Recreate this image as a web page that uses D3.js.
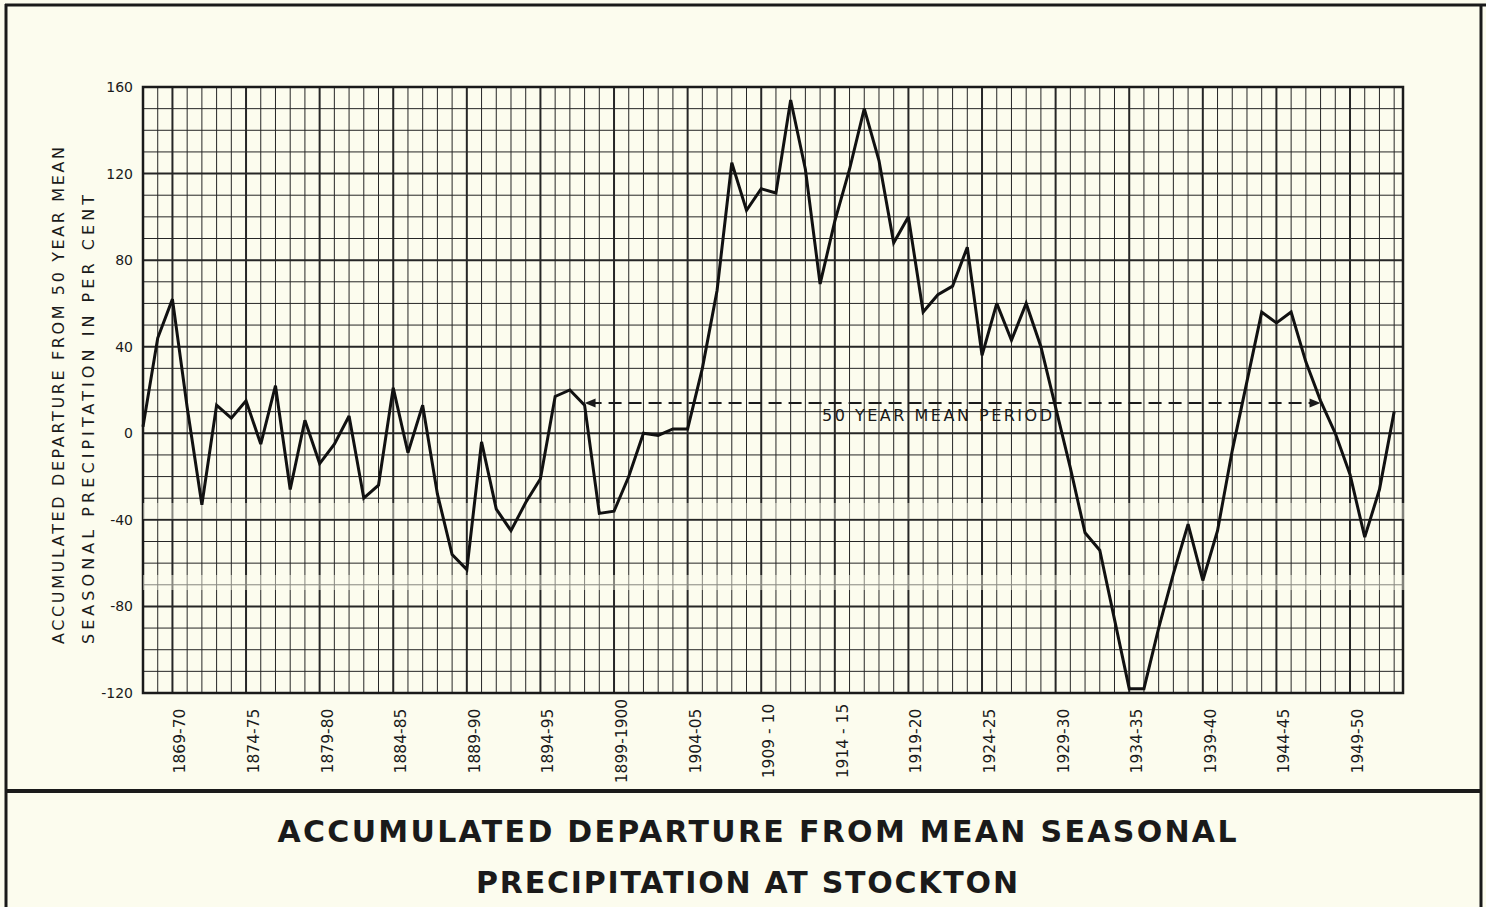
<!DOCTYPE html>
<html>
<head>
<meta charset="utf-8">
<script src="https://cdn.jsdelivr.net/npm/d3@7"></script>
<style>
  html, body { margin: 0; padding: 0; background: #fcfcee; }
  svg { display: block; }
  text { font-family: "DejaVu Sans", sans-serif; fill: #1a1a1a; }
</style>
</head>
<body>
<div id="chart"></div>
<script>
// seasons run 1867-68 .. 1952-53, one value per season (accumulated departure, per cent)
var firstYear = 1867;
var departure = [
  3, 44, 62, 12, -33, 13, 7, 15, -5, 22,
  -26, 6, -14, -5, 8, -30, -24, 21, -9, 13,
  -28, -56, -63, -4, -35, -45, -32, -21, 17, 20,
  13, -37, -36, -20, 0, -1, 2, 2, 30, 66,
  125, 103, 113, 111, 154, 122, 69, 98, 122, 150,
  126, 88, 100, 56, 64, 68, 86, 36, 60, 43,
  60, 40, 12, -16, -46, -54, -86, -118, -118, -90,
  -65, -42, -68, -45, -8, 24, 56, 51, 56, 33,
  15, 0, -19, -48, -26, 10
];
var seasons = departure.map(function (d, i) { return firstYear + i; });

var tickLabels = ["1869-70", "1874-75", "1879-80", "1884-85", "1889-90", "1894-95",
  "1899-1900", "1904-05", "1909 - 10", "1914 - 15", "1919-20", "1924-25", "1929-30",
  "1934-35", "1939-40", "1944-45", "1949-50"];
var tickYears = [1869, 1874, 1879, 1884, 1889, 1894, 1899, 1904, 1909, 1914, 1919,
  1924, 1929, 1934, 1939, 1944, 1949];
var yTicks = [160, 120, 80, 40, 0, -40, -80, -120];

// 50 year mean period marker
var meanPeriod = [1897, 1947];
var meanLevel = 14;

var W = 1486, H = 907;
var svg = d3.select("#chart").append("svg").attr("width", W).attr("height", H);

var x = d3.scaleLinear().domain([firstYear, firstYear + 85.6]).range([143, 1403]);
var y = d3.scaleLinear().domain([-120, 160]).range([693, 87]);

svg.append("rect").attr("width", W).attr("height", H).attr("fill", "#fcfcee");

// frame
var frame = svg.append("g").attr("stroke", "#1a1a1a").attr("fill", "none");
frame.append("line").attr("x1", 5).attr("x2", W).attr("y1", 5).attr("y2", 5).attr("stroke-width", 3);
frame.append("line").attr("x1", 6).attr("x2", 6).attr("y1", 4).attr("y2", H).attr("stroke-width", 3);
frame.append("line").attr("x1", 1481).attr("x2", 1481).attr("y1", 4).attr("y2", H).attr("stroke-width", 3);
frame.append("line").attr("x1", 5).attr("x2", 1482).attr("y1", 791).attr("y2", 791).attr("stroke-width", 4);

// grid
var grid = svg.append("g").attr("stroke", "#262626");
var minorY = d3.range(-120, 161, 10);
grid.selectAll(".hy").data(minorY).join("line")
  .attr("x1", x.range()[0]).attr("x2", x.range()[1])
  .attr("y1", function (d) { return y(d); }).attr("y2", function (d) { return y(d); })
  .attr("stroke-width", function (d) { return d % 40 === 0 ? 2 : 1; });
grid.selectAll(".vx").data(seasons).join("line")
  .attr("x1", function (d) { return x(d); }).attr("x2", function (d) { return x(d); })
  .attr("y1", y(160)).attr("y2", y(-120))
  .attr("stroke-width", function (d) { return tickYears.indexOf(d) >= 0 ? 2 : 1; });
svg.append("rect")
  .attr("x", x.range()[0]).attr("y", y(160))
  .attr("width", x.range()[1] - x.range()[0]).attr("height", y(-120) - y(160))
  .attr("fill", "none").attr("stroke", "#1a1a1a").attr("stroke-width", 2.5);

// washed stripes of the scan
svg.append("rect").attr("x", 143).attr("y", 503).attr("width", 1265).attr("height", 16)
  .attr("fill", "#fcfcee").attr("opacity", 0.45);
svg.append("rect").attr("x", 143).attr("y", 575).attr("width", 1265).attr("height", 15)
  .attr("fill", "#fcfcee").attr("opacity", 0.45);

// y axis labels
var yAxis = d3.axisLeft(y).tickValues(yTicks).tickSize(0).tickPadding(10)
  .tickFormat(function (d) { return String(d); });
var yAxisG = svg.append("g").attr("transform", "translate(" + x.range()[0] + ",0)").call(yAxis);
yAxisG.select(".domain").remove();
yAxisG.selectAll("text").style("font-family", "DejaVu Sans, sans-serif")
  .style("font-size", "14px").attr("fill", "#1a1a1a");

// x labels (rotated)
svg.append("g").selectAll("text").data(tickYears).join("text")
  .attr("transform", function (d) { return "translate(" + (x(d) + 13) + ",741) rotate(-90)"; })
  .attr("text-anchor", "middle")
  .style("font-size", "15.5px")
  .text(function (d, i) { return tickLabels[i]; });

// y axis title
svg.append("text")
  .attr("transform", "translate(64,644) rotate(-90)")
  .attr("textLength", 497).attr("lengthAdjust", "spacing")
  .style("font-size", "16px")
  .text("ACCUMULATED DEPARTURE FROM 50 YEAR MEAN");
svg.append("text")
  .attr("transform", "translate(94,644) rotate(-90)")
  .attr("textLength", 449).attr("lengthAdjust", "spacing")
  .style("font-size", "16px")
  .text("SEASONAL PRECIPITATION IN PER CENT");

// mean period marker
var my = y(meanLevel);
svg.append("line")
  .attr("x1", x(meanPeriod[0]) + 4).attr("x2", x(meanPeriod[1]) - 4)
  .attr("y1", my).attr("y2", my)
  .attr("stroke", "#1a1a1a").attr("stroke-width", 1.8).attr("stroke-dasharray", "13,7");
svg.append("path")
  .attr("d", "M" + x(meanPeriod[0]) + "," + my + "l11,-4.5l0,9z").attr("fill", "#1a1a1a");
svg.append("path")
  .attr("d", "M" + x(meanPeriod[1]) + "," + my + "l-11,-4.5l0,9z").attr("fill", "#1a1a1a");
svg.append("text")
  .attr("x", 822).attr("y", 421)
  .attr("textLength", 230).attr("lengthAdjust", "spacing")
  .style("font-size", "16px")
  .text("50 YEAR MEAN PERIOD");

// data line
var line = d3.line()
  .x(function (d, i) { return x(seasons[i]); })
  .y(function (d) { return y(d); });
svg.append("path").datum(departure)
  .attr("d", line)
  .attr("fill", "none").attr("stroke", "#111").attr("stroke-width", 3)
  .attr("stroke-linejoin", "miter").attr("stroke-miterlimit", 3);

// title
svg.append("text")
  .attr("x", 757).attr("y", 842).attr("text-anchor", "middle")
  .attr("textLength", 959).attr("lengthAdjust", "spacing")
  .style("font-size", "30px").style("font-weight", "bold")
  .text("ACCUMULATED DEPARTURE FROM MEAN SEASONAL");
svg.append("text")
  .attr("x", 747).attr("y", 893).attr("text-anchor", "middle")
  .attr("textLength", 542).attr("lengthAdjust", "spacing")
  .style("font-size", "30px").style("font-weight", "bold")
  .text("PRECIPITATION AT STOCKTON");
</script>
</body>
</html>
